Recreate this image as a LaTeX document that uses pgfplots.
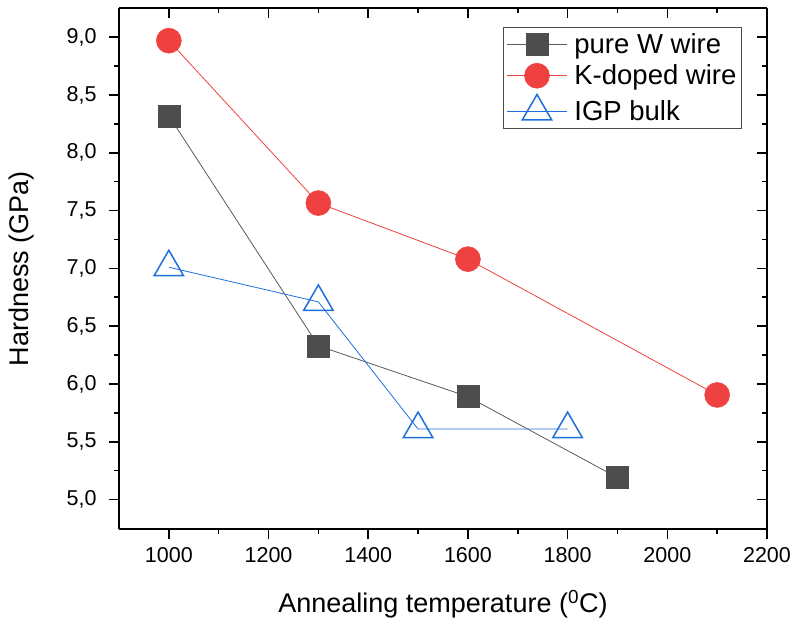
\documentclass[border=0pt]{standalone}
\usepackage{pgfplots}
\pgfplotsset{compat=1.18}
\usepackage{fontspec}
\setmainfont{Liberation Sans}
\definecolor{cgray}{RGB}{77,77,77}
\definecolor{cline}{RGB}{90,90,90}
\definecolor{cred}{RGB}{240,65,65}
\definecolor{cblue}{RGB}{30,110,220}
\begin{document}
\begin{tikzpicture}
\pgfplotsset{
  common/.style={
    scale only axis, width=648pt, height=521pt,
    xmin=900, xmax=2200, ymin=4.743, ymax=9.25,
    axis line style={line width=1.6pt,-},
    major tick length=10pt, minor tick length=5pt,
    every tick/.style={line width=1.6pt, black},
    xtick={1000,1200,...,2200}, minor x tick num=1,
    ytick={5,5.5,...,9}, minor y tick num=1,
  }
}
\begin{axis}[common, name=main,
  axis x line*=bottom, axis y line*=left, tick align=outside,
  /pgf/number format/assume math mode=true,
  ticklabel style={font=\fontsize{21.5}{24}\selectfont},
  xticklabel style={yshift=-5pt, /pgf/number format/.cd, set thousands separator={}},
  yticklabel style={xshift=-9pt, /pgf/number format/.cd, fixed, fixed zerofill, precision=1, use comma},
  xlabel={Annealing temperature (\textsuperscript{0}C)},
  ylabel={Hardness (GPa)},
  xlabel style={yshift=-20pt},
  ylabel style={yshift=26pt},
  label style={font=\fontsize{27}{30}\selectfont},
  legend style={at={(0.961,0.9635)}, anchor=north east, draw=black!70, line width=0.6pt,
    font=\fontsize{27.5}{31}\selectfont, inner xsep=3pt, inner ysep=4pt, row sep=6pt, cells={anchor=west},
    /tikz/every odd column/.append style={column sep=5pt}},
  legend image code/.code={\draw[mark repeat=2,mark phase=2,#1] plot coordinates {(0pt,0pt) (30pt,0pt) (60pt,0pt)};},
]
\addplot[cline, line width=0.8pt, mark=square*, mark size=11pt, mark options={fill=cgray, draw=cgray, line width=0.5pt}]
  coordinates {(1000,8.32) (1300,6.33) (1600,5.89) (1900,5.19)};
\addlegendentry{pure W wire}
\addplot[cred, line width=0.8pt, mark=*, mark size=12.5pt, mark options={fill=cred, draw=cred, line width=0.5pt}]
  coordinates {(1000,8.97) (1300,7.565) (1600,7.08) (2100,5.905)};
\addlegendentry{K-doped wire}
\addplot[cblue, line width=0.8pt, mark=triangle, mark size=17pt, mark options={fill=white, draw=cblue, line width=1.5pt}]
  coordinates {(1000,7.01) (1300,6.71) (1500,5.61) (1800,5.61)};
\addlegendentry{IGP bulk}
\end{axis}
\begin{axis}[common,
  axis x line*=top, axis y line*=right, tick align=inside,
  xticklabels={}, yticklabels={},
]
\end{axis}
\pgfresetboundingbox
\path ([xshift=-119pt,yshift=-90pt]main.south west) rectangle ([xshift=25pt,yshift=8.3pt]main.north east);
\end{tikzpicture}
\end{document}
